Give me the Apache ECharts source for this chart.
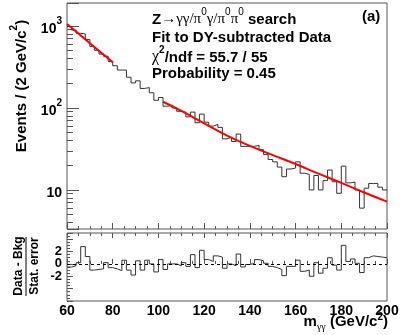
<!DOCTYPE html>
<html><head><meta charset="utf-8">
<script src="https://cdn.jsdelivr.net/npm/echarts@6/dist/echarts.min.js"></script>
<style>html,body{margin:0;padding:0;background:#fff}#c{width:407px;height:335px}</style>
</head><body><div id="c"></div>
<script>
// ---- data ----
const binLow = [60,62,64,66,68,70,72,74,76,78,80,82,84,86,88,90,92,94,96,98,100,102,104,106,108,110,112,114,116,118,120,122,124,126,128,130,132,134,136,138,140,142,144,146,148,150,152,154,156,158,160,162,164,166,168,170,172,174,176,178,180,182,184,186,188,190,192,194,196,198];
const lastEdge = 200;
const counts = [985,890,813,800,682,560,504,454,427,368,
  327,290,290,237,202,214,173,177,153,124,
  134,105,108,100,91,89,78,89,66,84,
  67,60,63,58,42,44,39,48,34,34,
  34,35,31,27,23.5,22,19,14.5,18,18.5,
  22,16,15.5,10,15,10,13,17.5,12.6,9.1,
  19.5,12.2,12.5,10,6,10.5,12,12,10.8,10];
const pulls = [-0.5,-0.3,0.2,2.8,1.2,-1.0,-0.9,-0.8,0.2,-0.6,
  -0.8,-1.1,0.6,-1.0,-1.8,0.5,-1.0,0.6,0.0,-1.3,
  0.7,-0.9,0.0,0.0,-0.3,0.2,-0.4,1.5,-0.6,2.2,
  0.7,0.4,1.3,1.1,-0.7,0.0,-0.3,1.6,-0.5,-0.1,
  0.1,0.7,0.5,0.1,-0.4,-0.6,-0.9,-1.9,-0.4,-0.4,
  0.6,-1.2,-1.0,-2.0,0.2,-1.5,-0.7,1.0,-0.2,-1.0,
  3.0,0.4,0.8,0.1,-1.4,1.0,1.3,1.2,1.1,1.0];
const fitLowX = [60,65,70,75,80];
const fitLowY = [1057,807,617,471,360];
const fitHighX = [102,110,120,130,140,150,160,170,180,190,200];
const fitHighY = [119,92,65,46,34.5,26.6,20.7,15.8,12.2,9.3,7.2];
const xTicks = [60,80,100,120,140,160,180,200];
const pullTickLabels = [-2,0,2];

// ---- build ----
function stepData(xs, ys, end){ const d = xs.map((x,i)=>[x, ys[i]]); d.push([end, ys[ys.length-1]]); return d; }
const FF = '"Liberation Sans", Arial, Helvetica, sans-serif';
const SF = '"Liberation Serif", "Times New Roman", serif';
const frame = '#555';
const chart = echarts.init(document.getElementById('c'), null, {renderer:'canvas'});
chart.setOption({
  animation:false,
  backgroundColor:'#fff',
  grid:[
    {left:67, top:3, width:320, height:226, show:true, borderColor:frame, borderWidth:1, backgroundColor:'transparent'},
    {left:67, top:233, width:320, height:68, show:true, borderColor:frame, borderWidth:1, backgroundColor:'transparent'}
  ],
  xAxis:[
    {gridIndex:0, type:'value', min:60, max:200, interval:20, axisLine:{show:false},
     axisTick:{inside:true, length:6, lineStyle:{color:frame}}, minorTick:{show:true, splitNumber:4, length:3, lineStyle:{color:frame}},
     axisLabel:{show:false}, splitLine:{show:false}},
    {gridIndex:1, type:'value', min:60, max:200, interval:20, axisLine:{show:false},
     axisTick:{inside:true, length:5, lineStyle:{color:frame}}, minorTick:{show:true, splitNumber:4, length:3, lineStyle:{color:frame}},
     axisLabel:{show:true, margin:3, color:'#000', fontFamily:FF, fontWeight:'bold', fontSize:14,
       formatter:v=> xTicks.indexOf(v)>=0 ? String(v) : ''},
     splitLine:{show:false}},
    {gridIndex:1, type:'value', position:'top', min:60, max:200, interval:20, axisLine:{show:false},
     axisTick:{inside:true, length:5, lineStyle:{color:frame}}, minorTick:{show:true, splitNumber:4, length:3, lineStyle:{color:frame}},
     axisLabel:{show:false}, splitLine:{show:false}}
  ],
  yAxis:[
    {gridIndex:0, type:'log', logBase:10, min:3.34, max:1905, axisLine:{show:false},
     axisTick:{inside:true, length:12, lineStyle:{color:frame}},
     minorTick:{show:true, splitNumber:9, length:6, lineStyle:{color:frame}},
     splitLine:{show:false}, showMinLabel:false, showMaxLabel:false,
     axisLabel:{margin:5, color:'#000',
       formatter:function(v){
         if (Math.abs(v-10)<1e-6) return '{n|10}';
         if (Math.abs(v-100)<1e-4) return '{n|10}{p|2}';
         if (Math.abs(v-1000)<1e-3) return '{n|10}{p|3}';
         return '';
       },
       rich:{
         n:{fontFamily:FF, fontWeight:'bold', fontSize:14, color:'#000', lineHeight:20, verticalAlign:'bottom'},
         p:{fontFamily:FF, fontWeight:'bold', fontSize:10, color:'#000', lineHeight:10, verticalAlign:'top'}
       }}},
    {gridIndex:1, type:'value', min:-6, max:5, interval:2, axisLine:{show:false},
     axisTick:{inside:true, length:6, lineStyle:{color:frame}},
     minorTick:{show:true, splitNumber:4, length:3, lineStyle:{color:frame}},
     splitLine:{show:false},
     axisLabel:{margin:5, color:'#000', fontFamily:FF, fontWeight:'bold', fontSize:13,
       formatter:v=> pullTickLabels.indexOf(v)>=0 ? String(v) : ''}}
  ],
  series:[
    {type:'line', xAxisIndex:0, yAxisIndex:0, step:'end', symbol:'none', data:stepData(binLow, counts, lastEdge),
     lineStyle:{color:'#333', width:1}, z:2},
    {type:'line', xAxisIndex:0, yAxisIndex:0, smooth:true, symbol:'none', data:fitLowX.map((x,i)=>[x,fitLowY[i]]),
     lineStyle:{color:'#ff0000', width:2}, z:3},
    {type:'line', xAxisIndex:0, yAxisIndex:0, smooth:true, symbol:'none', data:fitHighX.map((x,i)=>[x,fitHighY[i]]),
     lineStyle:{color:'#ff0000', width:2}, z:3},
    {type:'line', xAxisIndex:1, yAxisIndex:1, step:'end', symbol:'none', data:stepData(binLow, pulls, lastEdge),
     lineStyle:{color:'#333', width:1}, z:2,
     markLine:{silent:true, symbol:'none', label:{show:false},
       lineStyle:{color:'#000', width:1, type:[3,3]}, data:[{yAxis:0}]}}
  ],
  graphic:[
    {type:'text', left:null, x:152, y:17, style:{
      text:'{b|Z}{s|→γγ/π}{u|0}{s|γ/π}{u|0}{s|π}{u|0}{b| search}',
      verticalAlign:'middle', align:'left',
      rich:{
        b:{fontFamily:FF, fontWeight:'bold', fontSize:15, fill:'#000', lineHeight:20, verticalAlign:'bottom'},
        s:{fontFamily:SF, fontSize:15, fill:'#000', lineHeight:20, verticalAlign:'bottom'},
        u:{fontFamily:FF, fontSize:10, fill:'#000', lineHeight:10, verticalAlign:'top'}
      }}},
    {type:'text', x:362, y:17, style:{text:'(a)', fontFamily:FF, fontWeight:'bold', fontSize:15, fill:'#000', verticalAlign:'middle'}},
    {type:'text', x:152, y:38, style:{text:'Fit to DY-subtracted Data', fontFamily:FF, fontWeight:'bold', fontSize:15, fill:'#000', verticalAlign:'middle'}},
    {type:'text', x:152, y:55, style:{
      text:'{s|χ}{u|2}{b|/ndf = 55.7 / 55}', verticalAlign:'middle',
      rich:{
        b:{fontFamily:FF, fontWeight:'bold', fontSize:15, fill:'#000', lineHeight:20, verticalAlign:'bottom'},
        s:{fontFamily:SF, fontSize:16, fill:'#000', lineHeight:20, verticalAlign:'bottom'},
        u:{fontFamily:FF, fontWeight:'bold', fontSize:10, fill:'#000', lineHeight:10, verticalAlign:'top'}
      }}},
    {type:'text', x:152, y:74, style:{text:'Probability = 0.45', fontFamily:FF, fontWeight:'bold', fontSize:15, fill:'#000', verticalAlign:'middle'}},
    {type:'text', x:19, y:86, rotation:Math.PI/2, style:{
      text:'{b|Events / (2 GeV/c}{u|2}{b|)}', align:'center', verticalAlign:'middle',
      rich:{
        b:{fontFamily:FF, fontWeight:'bold', fontSize:15, fill:'#000', lineHeight:20, verticalAlign:'bottom'},
        u:{fontFamily:FF, fontWeight:'bold', fontSize:10, fill:'#000', lineHeight:10, verticalAlign:'top'}
      }}},
    {type:'text', x:19, y:266, rotation:Math.PI/2, style:{text:'Data - Bkg', fontFamily:FF, fontWeight:'bold', fontSize:12, fill:'#000', align:'center', verticalAlign:'middle'}},
    {type:'line', shape:{x1:26, y1:237, x2:26, y2:296}, style:{stroke:'#000', lineWidth:1}},
    {type:'text', x:35, y:266, rotation:Math.PI/2, style:{text:'Stat. error', fontFamily:FF, fontWeight:'bold', fontSize:12, fill:'#000', align:'center', verticalAlign:'middle'}},
    {type:'text', x:388, y:322, style:{
      text:'{b|m}{d|γγ}{b| (GeV/c}{u|2}{b|)}', align:'right', verticalAlign:'middle',
      rich:{
        b:{fontFamily:FF, fontWeight:'bold', fontSize:15, fill:'#000', lineHeight:20, verticalAlign:'middle'},
        d:{fontFamily:SF, fontSize:10, fill:'#000', lineHeight:10, verticalAlign:'bottom'},
        u:{fontFamily:FF, fontWeight:'bold', fontSize:10, fill:'#000', lineHeight:10, verticalAlign:'top'}
      }}}
  ]
});
</script></body></html>
